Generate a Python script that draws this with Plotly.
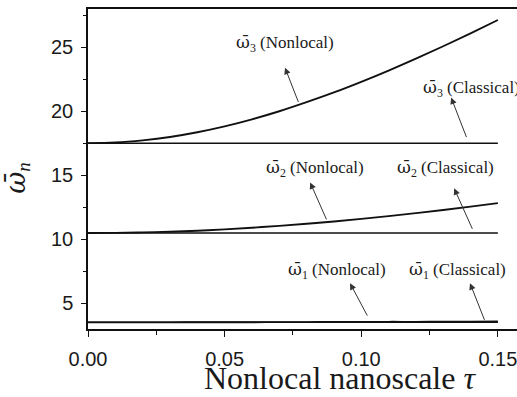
import plotly.graph_objects as go

# ---- data ----
tau = [0.00, 0.01, 0.02, 0.03, 0.04, 0.05, 0.06, 0.07, 0.08, 0.09, 0.10, 0.11, 0.12, 0.13, 0.14, 0.15]

w1_classical = [3.52] * len(tau)
w2_classical = [10.50] * len(tau)
w3_classical = [17.52] * len(tau)

w1_nonlocal = [3.52, 3.52, 3.52, 3.52, 3.53, 3.53, 3.53, 3.54, 3.54, 3.55, 3.55, 3.56, 3.56, 3.57, 3.58, 3.59]
w2_nonlocal = [10.50, 10.51, 10.55, 10.60, 10.68, 10.78, 10.91, 11.06, 11.22, 11.40, 11.60, 11.82, 12.05, 12.30, 12.56, 12.83]
w3_nonlocal = [17.52, 17.57, 17.74, 18.00, 18.37, 18.83, 19.38, 20.01, 20.72, 21.48, 22.31, 23.19, 24.12, 25.09, 26.10, 27.14]

x_ticks = [0.00, 0.05, 0.10, 0.15]
x_tick_labels = ["0.00", "0.05", "0.10", "0.15"]
y_ticks = [5, 10, 15, 20, 25]
y_tick_labels = ["5", "10", "15", "20", "25"]

OMEGA = "<span style='font-family:DejaVu Serif'>ω̄</span>"
labels = [OMEGA + "<sub>3</sub> (Nonlocal)", OMEGA + "<sub>3</sub> (Classical)",
          OMEGA + "<sub>2</sub> (Nonlocal)", OMEGA + "<sub>2</sub> (Classical)",
          OMEGA + "<sub>1</sub> (Nonlocal)", OMEGA + "<sub>1</sub> (Classical)"]

# ---- figure ----
fig = go.Figure()
for ys, w in [(w1_classical, 1.5), (w2_classical, 1.5), (w3_classical, 1.5),
              (w1_nonlocal, 1.9), (w2_nonlocal, 1.9), (w3_nonlocal, 1.9)]:
    fig.add_trace(go.Scatter(x=tau, y=ys, mode="lines",
                             line=dict(color="#111111", width=w, shape="spline"),
                             showlegend=False, hoverinfo="skip"))

# label placement: (text x, text y, arrow tail x, tail y, arrow head x, head y)
label_pos = [
    (0.0721, 25.28, 0.0772, 20.62, 0.0721, 23.41),
    (0.1402, 21.78, 0.1387, 17.88, 0.1329, 21.08),
    (0.0831, 15.54, 0.0875, 11.45, 0.0813, 14.45),
    (0.1310, 15.54, 0.1409, 10.71, 0.1340, 13.99),
    (0.0910, 7.60, 0.1025, 3.93, 0.0959, 6.58),
    (0.1352, 7.60, 0.1453, 3.60, 0.1398, 6.58),
]

annotations = []
for txt, (tx, ty, ax_, ay_, hx, hy) in zip(labels, label_pos):
    annotations.append(dict(x=tx, y=ty, xref="x", yref="y", text=txt, showarrow=False,
                            xanchor="center", yanchor="middle",
                            font=dict(family="Liberation Serif", size=17, color="#1a1a1a")))
    annotations.append(dict(x=hx, y=hy, ax=ax_, ay=ay_, xref="x", yref="y",
                            axref="x", ayref="y", text="", showarrow=True,
                            arrowhead=2, arrowsize=1.3, arrowwidth=1, arrowcolor="#333333"))

annotations.append(dict(x=0.587, y=-0.152, xref="paper", yref="paper",
                        text="Nonlocal nanoscale <i>τ</i>", showarrow=False,
                        xanchor="center", yanchor="middle",
                        font=dict(family="Liberation Serif", size=32, color="#1a1a1a")))
annotations.append(dict(x=-0.165, y=0.47, xref="paper", yref="paper",
                        text="<span style='font-family:DejaVu Serif'><i>ω̄</i></span><sub><i>n</i></sub>",
                        showarrow=False, textangle=-90,
                        xanchor="center", yanchor="middle",
                        font=dict(family="Liberation Serif", size=27, color="#1a1a1a")))

fig.update_layout(
    width=517, height=397,
    margin=dict(l=88, r=0, t=8.5, b=68),
    paper_bgcolor="white", plot_bgcolor="white",
    annotations=annotations,
    xaxis=dict(range=[0, 0.157], tickvals=x_ticks, ticktext=x_tick_labels,
               showgrid=False, zeroline=False, showline=True, linecolor="#111111",
               linewidth=1.5, mirror=True, ticks="outside", ticklen=6, tickwidth=1.2,
               tickcolor="#111111", automargin=False, ticklabeloverflow="allow",
               minor=dict(dtick=0.025, tick0=0, ticks="outside", ticklen=4, tickwidth=1, tickcolor="#111111"),
               tickfont=dict(family="Liberation Sans", size=20, color="#1a1a1a"),
               ticklabelstandoff=5),
    yaxis=dict(range=[3, 28], tickvals=y_ticks, ticktext=y_tick_labels,
               showgrid=False, zeroline=False, showline=True, linecolor="#111111",
               linewidth=1.5, ticks="outside", ticklen=5, tickwidth=1.2, tickcolor="#111111",
               automargin=False,
               minor=dict(dtick=2.5, tick0=0, ticks="outside", ticklen=3, tickwidth=1, tickcolor="#111111"),
               tickfont=dict(family="Liberation Sans", size=20, color="#1a1a1a"),
               ticklabelstandoff=4),
)

fig.write_html("out.html", config={"displayModeBar": False},
               post_script="document.body.style.margin='0';document.body.style.padding='0';")
